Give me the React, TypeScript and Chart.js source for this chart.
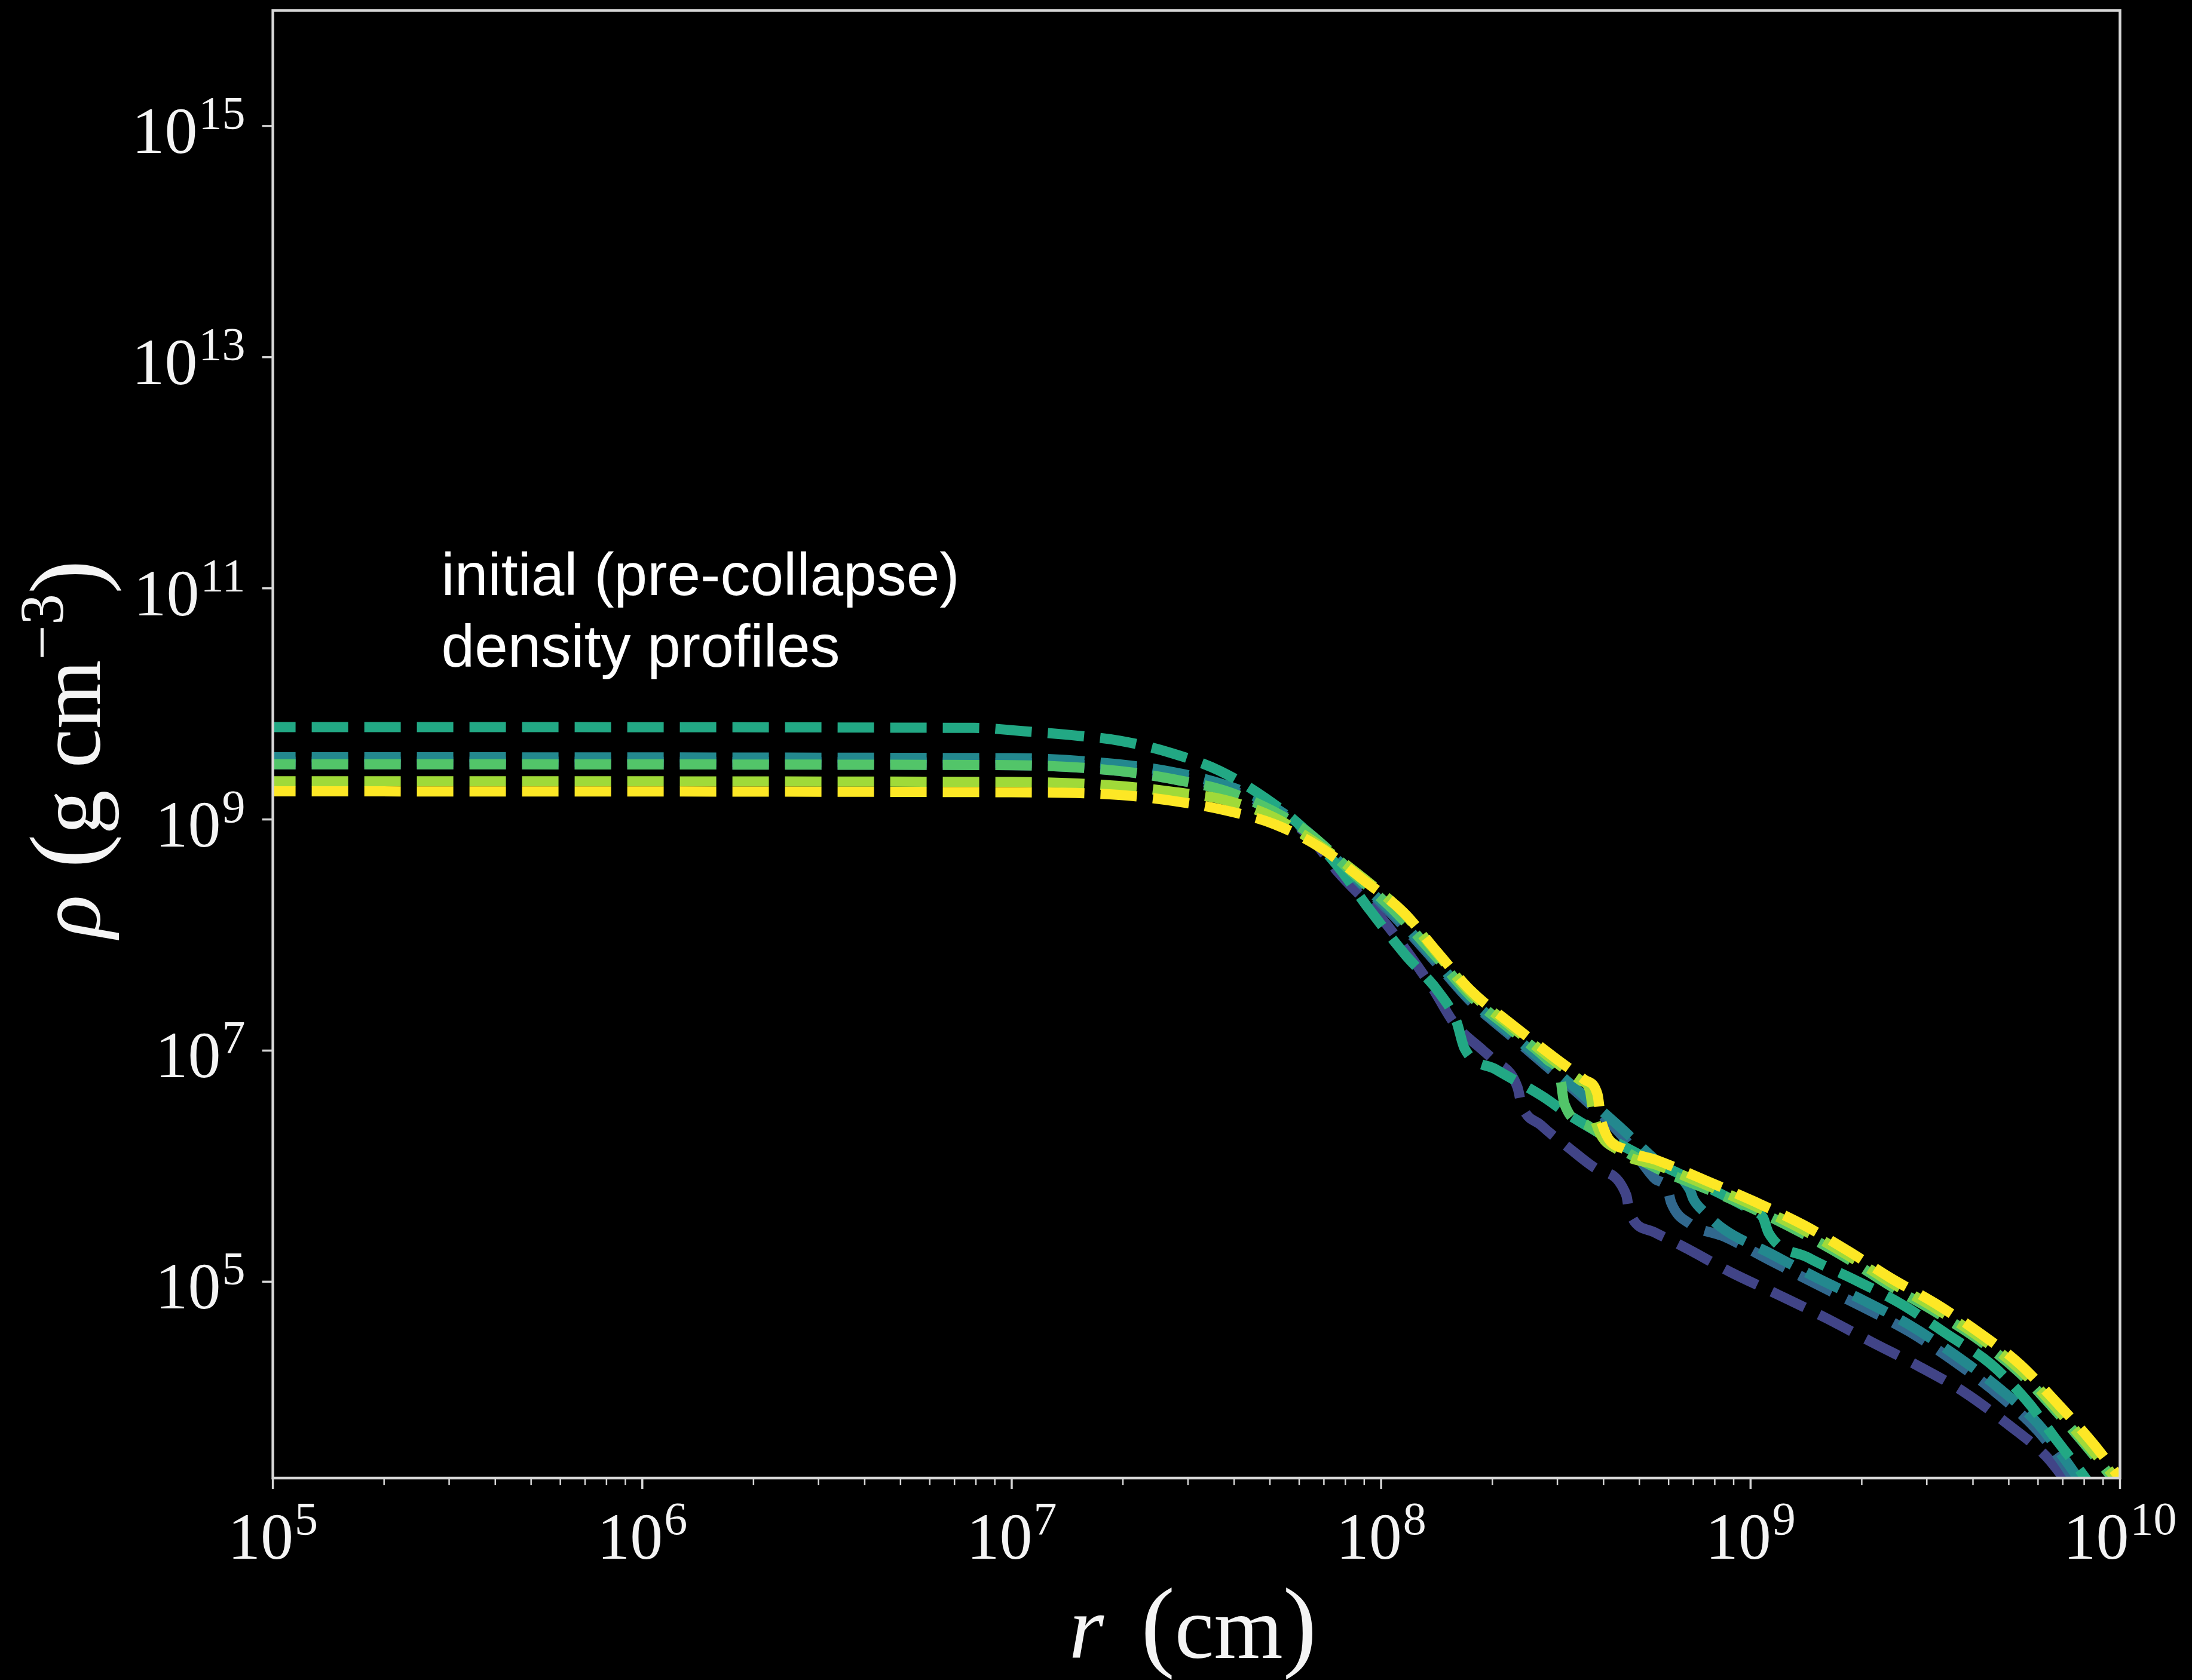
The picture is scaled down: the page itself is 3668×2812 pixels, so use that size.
import React, { useEffect, useRef } from "react";
import { Chart, registerables } from "chart.js";

Chart.register(...registerables);

const CANVAS_W = 3668;
const CANVAS_H = 2812;

// Radius samples (cm) and densities (g cm^-3) of each pre-collapse profile.
const rPurple = [1e5, 1e7, 1.95e7, 2.73e7, 3.76e7, 5.05e7, 6.38e7, 7.66e7, 1.0e8, 1.37e8, 1.58e8, 1.89e8, 2.0e8, 2.34e8, 2.4e8, 2.71e8, 3.23e8, 3.78e8, 4.61e8, 4.7e8, 5.46e8, 6.6e8, 8.83e8, 1.19e9, 1.59e9, 2.13e9, 2.85e9, 3.8e9, 4.92e9, 6.3e9, 7.24e9];
const rhoPurple = [3.0e9, 2.95e9, 2.63e9, 2.23e9, 1.78e9, 1.2e9, 7.2e8, 3.47e8, 1.41e8, 3.57e7, 1.71e7, 1.0e7, 8.5e6, 4.8e6, 3.4e6, 2.26e6, 1.43e6, 9.7e5, 5.6e5, 4.0e5, 2.7e5, 2.0e5, 1.21e5, 7.7e4, 4.9e4, 3.0e4, 1.86e4, 1.1e4, 6.0e3, 3.1e3, 1.78e3];

const rBlue = [1e5, 1e7, 1.95e7, 2.73e7, 3.76e7, 4.9e7, 6.3e7, 8.5e7, 1.1e8, 1.41e8, 1.74e8, 2.24e8, 2.82e8, 3.55e8, 4.47e8, 5.48e8, 5.96e8, 6.1e8, 6.87e8, 8.5e8, 1.13e9, 1.52e9, 2.02e9, 2.7e9, 3.58e9, 4.66e9, 6.0e9, 7.18e9, 7.94e9];
const rhoBlue = [3.16e9, 3.09e9, 2.8e9, 2.4e9, 1.88e9, 1.32e9, 7.8e8, 3.1e8, 1.38e8, 5.75e7, 2.7e7, 1.35e7, 7.2e6, 3.8e6, 1.86e6, 7.9e5, 6.3e5, 4.8e5, 3.16e5, 2.45e5, 1.53e5, 9.4e4, 6.0e4, 3.67e4, 2.02e4, 1.07e4, 5.1e3, 2.4e3, 1.41e3];

const rTealBlue = [1e5, 1e7, 1.95e7, 2.73e7, 3.76e7, 4.9e7, 6.3e7, 8.5e7, 1.1e8, 1.41e8, 1.74e8, 2.24e8, 2.82e8, 3.39e8, 4.32e8, 5.5e8, 6.84e8, 7.0e8, 7.5e8, 8.5e8, 1.13e9, 1.52e9, 2.02e9, 2.7e9, 3.58e9, 4.66e9, 6.0e9, 7.18e9, 8.1e9];
const rhoTealBlue = [3.45e9, 3.39e9, 3.0e9, 2.57e9, 2.0e9, 1.4e9, 7.9e8, 3.16e8, 1.45e8, 6.0e7, 2.8e7, 1.41e7, 7.6e6, 4.6e6, 2.34e6, 1.15e6, 6.3e5, 5.2e5, 4.0e5, 2.82e5, 1.76e5, 1.07e5, 6.9e4, 4.2e4, 2.32e4, 1.23e4, 5.9e3, 2.75e3, 1.58e3];

const rTealGreen = [1e5, 7.9e6, 1.08e7, 1.42e7, 1.96e7, 2.7e7, 3.66e7, 4.83e7, 6.08e7, 7.6e7, 9.3e7, 1.16e8, 1.44e8, 1.6e8, 1.68e8, 2.04e8, 2.74e8, 3.31e8, 5.0e8, 7.08e8, 1.0e9, 1.08e9, 1.12e9, 1.43e9, 1.9e9, 2.54e9, 3.41e9, 4.48e9, 5.6e9, 6.76e9, 7.94e9, 8.9e9];
const rhoTealGreen = [6.3e9, 6.2e9, 5.8e9, 5.4e9, 4.8e9, 3.76e9, 2.63e9, 1.55e9, 8.7e8, 4.0e8, 1.66e8, 6.8e7, 3.13e7, 1.78e7, 1.05e7, 6.9e6, 4.0e6, 2.63e6, 1.26e6, 7.4e5, 4.2e5, 3.6e5, 2.63e5, 1.62e5, 1.05e5, 6.5e4, 3.5e4, 1.93e4, 9.3e3, 4.2e3, 2.14e3, 1.26e3];

const rGreen = [1e5, 1e7, 1.95e7, 2.73e7, 3.76e7, 5.05e7, 6.38e7, 8.5e7, 1.1e8, 1.42e8, 1.75e8, 2.25e8, 2.82e8, 3.05e8, 3.13e8, 3.63e8, 4.47e8, 5.6e8, 7.65e8, 1.03e9, 1.39e9, 1.85e9, 2.39e9, 3.16e9, 4.17e9, 5.36e9, 6.76e9, 8.4e9, 1e10];
const rhoGreen = [3.0e9, 2.95e9, 2.63e9, 2.23e9, 1.78e9, 1.2e9, 7.6e8, 3.3e8, 1.55e8, 6.3e7, 2.95e7, 1.51e7, 8.3e6, 6.0e6, 3.5e6, 2.24e6, 1.41e6, 9.5e5, 6.3e5, 4.2e5, 2.6e5, 1.55e5, 9.2e4, 5.5e4, 3.1e4, 1.62e4, 7.4e3, 3.3e3, 1.66e3];

const rLime = [1e5, 1e7, 1.95e7, 2.73e7, 3.76e7, 5.1e7, 6.85e7, 8.95e7, 1.15e8, 1.42e8, 1.75e8, 2.25e8, 2.92e8, 3.47e8, 3.67e8, 3.76e8, 4.42e8, 5.6e8, 7.65e8, 1.03e9, 1.39e9, 1.85e9, 2.39e9, 3.16e9, 4.17e9, 5.36e9, 6.76e9, 8.4e9, 1e10];
const rhoLime = [2.14e9, 2.11e9, 1.95e9, 1.73e9, 1.48e9, 1.05e9, 5.9e8, 3.1e8, 1.55e8, 6.9e7, 3.16e7, 1.62e7, 8.3e6, 5.5e6, 4.6e6, 2.8e6, 1.35e6, 1.02e6, 6.8e5, 4.5e5, 2.8e5, 1.66e5, 9.9e4, 5.9e4, 3.3e4, 1.74e4, 7.9e3, 3.5e3, 1.8e3];

const rYellow = [1e5, 1e7, 1.95e7, 2.72e7, 3.78e7, 5.14e7, 6.85e7, 8.95e7, 1.15e8, 1.42e8, 1.75e8, 2.25e8, 2.92e8, 3.55e8, 3.85e8, 3.95e8, 4.6e8, 5.6e8, 7.65e8, 1.03e9, 1.39e9, 1.85e9, 2.39e9, 3.16e9, 4.17e9, 5.36e9, 6.76e9, 8.4e9, 1e10];
const rhoYellow = [1.75e9, 1.72e9, 1.63e9, 1.45e9, 1.2e9, 9.1e8, 5.7e8, 3.0e8, 1.57e8, 7.1e7, 3.3e7, 1.7e7, 8.9e6, 5.6e6, 4.2e6, 2.4e6, 1.38e6, 1.12e6, 7.4e5, 4.9e5, 3.1e5, 1.82e5, 1.08e5, 6.5e4, 3.6e4, 1.93e4, 8.9e3, 4.1e3, 2.0e3];

// Drawn bottom to top.
const profiles = [
  { label: "model 1", r: rPurple, rho: rhoPurple, color: "#414487" },
  { label: "model 2", r: rBlue, rho: rhoBlue, color: "#31688e" },
  { label: "model 3", r: rTealBlue, rho: rhoTealBlue, color: "#23888e" },
  { label: "model 4", r: rTealGreen, rho: rhoTealGreen, color: "#22a884" },
  { label: "model 5", r: rGreen, rho: rhoGreen, color: "#52c569" },
  { label: "model 6", r: rLime, rho: rhoLime, color: "#a0da39" },
  { label: "model 7", r: rYellow, rho: rhoYellow, color: "#fde725" },
];

const rLimits = [1e5, 1e10];
const rhoLimits = [2e3, 1e16];

const xTickExponents = [5, 6, 7, 8, 9, 10];
const yTickExponents = [5, 7, 9, 11, 13, 15];
const xMinorMultipliers = [2, 3, 4, 5, 6, 7, 8, 9];

const noteLines = ["initial (pre-collapse)", "density profiles"];

const SERIF = '"Liberation Serif", "DejaVu Serif", serif';
const SANS = '"Liberation Sans", Arial, sans-serif';
const INK = "#f4f4f4";
const SPINE = "#d6d6d6";

const TICK_BASE_PX = 110;
const TICK_SUP_PX = 78;
const SUP_RAISE = 41;

function drawPower(ctx: CanvasRenderingContext2D, exponent: string, x: number, baseline: number, align: "center" | "right") {
  ctx.font = `${TICK_BASE_PX}px ${SERIF}`;
  const wBase = ctx.measureText("10").width;
  ctx.font = `${TICK_SUP_PX}px ${SERIF}`;
  const wSup = ctx.measureText(exponent).width;
  const gap = 2;
  const total = wBase + gap + wSup;
  const x0 = align === "center" ? x - total / 2 : x - total;
  ctx.textAlign = "left";
  ctx.textBaseline = "alphabetic";
  ctx.font = `${TICK_BASE_PX}px ${SERIF}`;
  ctx.fillText("10", x0, baseline);
  ctx.font = `${TICK_SUP_PX}px ${SERIF}`;
  ctx.fillText(exponent, x0 + wBase + gap, baseline - SUP_RAISE);
}

type Piece = { text?: string; font?: string; dy?: number; gap?: number };

function drawPieces(ctx: CanvasRenderingContext2D, pieces: Piece[], cx: number) {
  const widths = pieces.map((p) => {
    if (p.gap !== undefined) return p.gap;
    ctx.font = p.font as string;
    return ctx.measureText(p.text as string).width;
  });
  const total = widths.reduce((s, w) => s + w, 0);
  let x = cx - total / 2;
  ctx.textAlign = "left";
  ctx.textBaseline = "alphabetic";
  pieces.forEach((p, i) => {
    if (p.text) {
      ctx.font = p.font as string;
      ctx.fillText(p.text, x, p.dy || 0);
    }
    x += widths[i];
  });
}

const axisDecor = {
  id: "axisDecor",
  afterDraw(chart: any) {
    const { ctx, chartArea: a } = chart;
    const xs = chart.scales.x;
    const ys = chart.scales.y;
    ctx.save();

    // frame around the plotting area
    ctx.strokeStyle = SPINE;
    ctx.lineWidth = 4.5;
    ctx.strokeRect(a.left, a.top, a.right - a.left, a.bottom - a.top);

    // x ticks (outward, minor ones shorter)
    ctx.strokeStyle = SPINE;
    ctx.lineCap = "butt";
    for (const t of xs.ticks) {
      const px = xs.getPixelForValue(t.value);
      ctx.lineWidth = t.major ? 3.5 : 2.5;
      const len = t.major ? 18 : 12;
      ctx.beginPath();
      ctx.moveTo(px, a.bottom);
      ctx.lineTo(px, a.bottom + len);
      ctx.stroke();
    }
    // y ticks
    for (const t of ys.ticks) {
      const py = ys.getPixelForValue(t.value);
      ctx.lineWidth = 3.5;
      ctx.beginPath();
      ctx.moveTo(a.left - 18, py);
      ctx.lineTo(a.left, py);
      ctx.stroke();
    }

    // tick labels as powers of ten
    ctx.fillStyle = INK;
    for (const t of xs.ticks) {
      if (!t.major) continue;
      const px = xs.getPixelForValue(t.value);
      drawPower(ctx, String(Math.round(Math.log10(t.value))), px, a.bottom + 135, "center");
    }
    for (const t of ys.ticks) {
      const py = ys.getPixelForValue(t.value);
      drawPower(ctx, String(Math.round(Math.log10(t.value))), a.left - 46, py + 45, "right");
    }

    // x axis title: r (cm)
    ctx.save();
    ctx.translate(0, a.bottom + 301);
    drawPieces(
      ctx,
      [
        { text: "r", font: `italic 150px ${SERIF}` },
        { gap: 62 },
        { text: "(", font: `170px ${SERIF}` },
        { text: "cm", font: `148px ${SERIF}` },
        { text: ")", font: `170px ${SERIF}` },
      ],
      (a.left + a.right) / 2 - 6
    );
    ctx.restore();

    // y axis title: rho (g cm^-3)
    ctx.save();
    ctx.translate(a.left - 290, (a.top + a.bottom) / 2 + 8);
    ctx.rotate(-Math.PI / 2);
    drawPieces(
      ctx,
      [
        { text: "ρ", font: `italic 150px ${SERIF}` },
        { gap: 45 },
        { text: "(", font: `170px ${SERIF}` },
        { text: "g", font: `148px ${SERIF}` },
        { gap: 37 },
        { text: "cm", font: `148px ${SERIF}` },
        { text: "−3", font: `104px ${SERIF}`, dy: -62 },
        { text: ")", font: `170px ${SERIF}` },
      ],
      0
    );
    ctx.restore();

    // annotation
    ctx.font = `100px ${SANS}`;
    ctx.textAlign = "left";
    ctx.textBaseline = "alphabetic";
    ctx.fillStyle = "#ffffff";
    noteLines.forEach((line, i) => {
      ctx.fillText(line, a.left + 282, a.top + 978 + i * 120);
    });

    ctx.restore();
  },
};

export default function App() {
  const canvasRef = useRef<HTMLCanvasElement | null>(null);

  useEffect(() => {
    document.body.style.background = "#000";
    const canvas = canvasRef.current;
    if (!canvas) return;

    const datasets = profiles.map((p, i) => ({
      label: p.label,
      data: p.r.map((r, j) => ({ x: r, y: p.rho[j] })),
      borderColor: p.color,
      backgroundColor: p.color,
      borderWidth: 17,
      borderDash: [61, 27],
      borderDashOffset: 23,
      borderCapStyle: "butt" as const,
      borderJoinStyle: "round" as const,
      pointRadius: 0,
      pointHoverRadius: 0,
      fill: false,
      cubicInterpolationMode: "monotone" as const,
      clip: 0,
      order: profiles.length - 1 - i,
    }));

    const chart = new Chart(canvas, {
      type: "line",
      data: { datasets },
      options: {
        responsive: false,
        animation: false,
        devicePixelRatio: 1,
        events: [],
        layout: { padding: { top: 17.5, right: 120.5, left: 0, bottom: 0 } },
        plugins: {
          legend: { display: false },
          tooltip: { enabled: false },
          title: { display: false },
        },
        scales: {
          x: {
            type: "logarithmic",
            position: "bottom",
            min: rLimits[0],
            max: rLimits[1],
            grid: { display: false },
            border: { display: false },
            ticks: { display: false },
            afterBuildTicks: (scale: any) => {
              const ticks: any[] = [];
              const last = xTickExponents[xTickExponents.length - 1];
              for (const e of xTickExponents) {
                ticks.push({ value: Math.pow(10, e), major: true });
                if (e < last) {
                  for (const m of xMinorMultipliers) ticks.push({ value: m * Math.pow(10, e), major: false });
                }
              }
              scale.ticks = ticks;
            },
            afterFit: (scale: any) => {
              scale.height = 338;
            },
          },
          y: {
            type: "logarithmic",
            position: "left",
            min: rhoLimits[0],
            max: rhoLimits[1],
            grid: { display: false },
            border: { display: false },
            ticks: { display: false },
            afterBuildTicks: (scale: any) => {
              scale.ticks = yTickExponents.map((e) => ({ value: Math.pow(10, e), major: true }));
            },
            afterFit: (scale: any) => {
              scale.width = 456.6;
            },
          },
        },
      } as any,
      plugins: [axisDecor],
    });

    return () => {
      chart.destroy();
    };
  }, []);

  return (
    <div
      style={{
        position: "absolute",
        left: 0,
        top: 0,
        width: CANVAS_W,
        height: CANVAS_H,
        background: "#000",
        overflow: "hidden",
      }}
    >
      <canvas ref={canvasRef} width={CANVAS_W} height={CANVAS_H} style={{ display: "block" }} />
    </div>
  );
}
